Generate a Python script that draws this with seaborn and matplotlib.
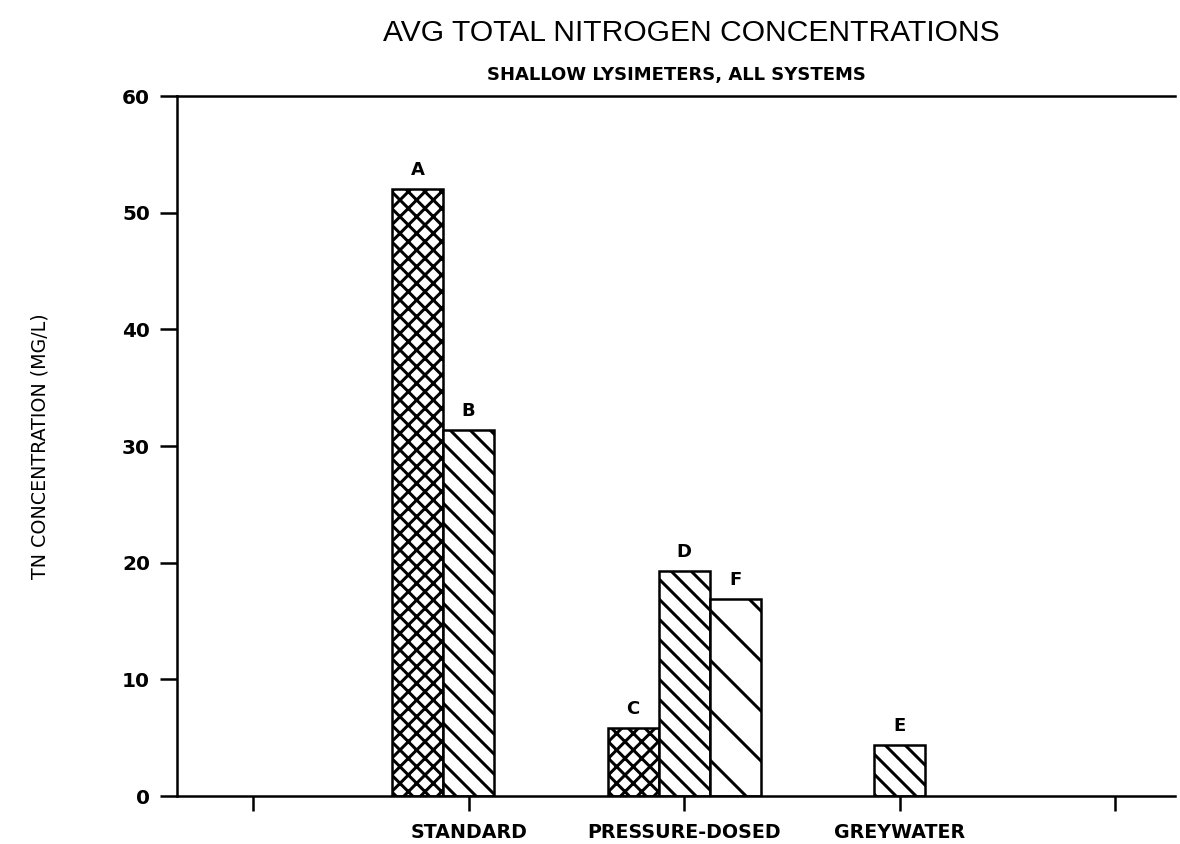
import matplotlib
matplotlib.use("Agg")
import matplotlib.pyplot as plt
import pandas as pd
import seaborn as sns

# bars (mg/L)
systems = ["STANDARD", "STANDARD", "PRESSURE-DOSED", "PRESSURE-DOSED", "PRESSURE-DOSED", "GREYWATER"]
kinds = ["cross", "dense", "cross", "dense", "sparse", "dense"]
tn_mg_l = [52.0, 31.4, 5.8, 19.3, 16.9, 4.4]
letters = ["A", "B", "C", "D", "F", "E"]

order = ["STANDARD", "PRESSURE-DOSED", "GREYWATER"]
kind_order = ["cross", "dense", "sparse"]
hatches = {"cross": "x" * 6, "dense": "\\" * 5, "sparse": "\\" * 2}

df = pd.DataFrame({"system": systems, "kind": kinds, "tn": tn_mg_l, "letter": letters})

# high dpi so the sparse hatch gets wide spacing; sizes given in pixels
DPI = 300


def px(v):
    return v * 72 / DPI


sns.set_style("white")
plt.rcParams["font.family"] = ["Liberation Sans", "DejaVu Sans"]
plt.rcParams["text.color"] = "black"
plt.rcParams["axes.labelcolor"] = "black"
plt.rcParams["hatch.linewidth"] = px(3)
plt.rcParams["hatch.color"] = "black"

fig = plt.figure(figsize=(1180 / DPI, 844 / DPI), dpi=DPI)
ax = fig.add_axes([177 / 1180, 1 - 796 / 844, (1175 - 177) / 1180, (796 - 96) / 844])

sns.barplot(
    data=df,
    x="system",
    y="tn",
    hue="kind",
    order=order,
    hue_order=kind_order,
    palette={k: "white" for k in kind_order},
    saturation=1.0,
    edgecolor="black",
    linewidth=px(2.5),
    width=0.71,
    legend=False,
    errorbar=None,
    ax=ax,
)

for container, kind in zip(ax.containers, kind_order):
    sub = df[df["kind"] == kind].copy()
    sub["pos"] = sub["system"].map(order.index)
    sub = sub.sort_values("pos")
    for bar, letter in zip(container, sub["letter"]):
        bar.set_hatch(hatches[kind])
        ax.annotate(letter, (bar.get_x() + bar.get_width() / 2, bar.get_height()),
                    xytext=(0, px(10)), textcoords="offset points",
                    ha="center", va="bottom", fontweight="bold", fontsize=px(18),
                    family="DejaVu Sans")

ax.set_xlim(-1.353, 3.278)
ax.set_ylim(0, 60)
ax.set_yticks(range(0, 61, 10))
ax.set_xticks([-1, 0, 1, 2, 3], [""] + order + [""])
ax.set_xlabel("")
ax.set_ylabel("TN CONCENTRATION (MG/L)", fontsize=px(19), family="DejaVu Sans")
ax.yaxis.set_label_coords(-0.128, 0.5)

ax.spines["right"].set_visible(False)
for s in ["top", "left", "bottom"]:
    ax.spines[s].set_linewidth(px(2.5))
    ax.spines[s].set_color("black")

ax.tick_params(axis="y", left=True, length=px(17), width=px(2.5), pad=px(10),
               labelsize=px(20), colors="black")
ax.tick_params(axis="x", bottom=True, length=px(15), width=px(2.5), pad=px(12),
               labelsize=px(19), colors="black")
for lbl in ax.get_xticklabels() + ax.get_yticklabels():
    lbl.set_fontweight("bold")
    lbl.set_family("DejaVu Sans")

fig.text(691 / 1180, 1 - 33 / 844, "AVG TOTAL NITROGEN CONCENTRATIONS",
         ha="center", va="center", fontsize=px(30))
fig.text(676 / 1180, 1 - 75 / 844, "SHALLOW LYSIMETERS, ALL SYSTEMS",
         ha="center", va="center", fontsize=px(18), fontweight="bold",
         family="DejaVu Sans")

fig.savefig("out.png", dpi=DPI, facecolor="white")
